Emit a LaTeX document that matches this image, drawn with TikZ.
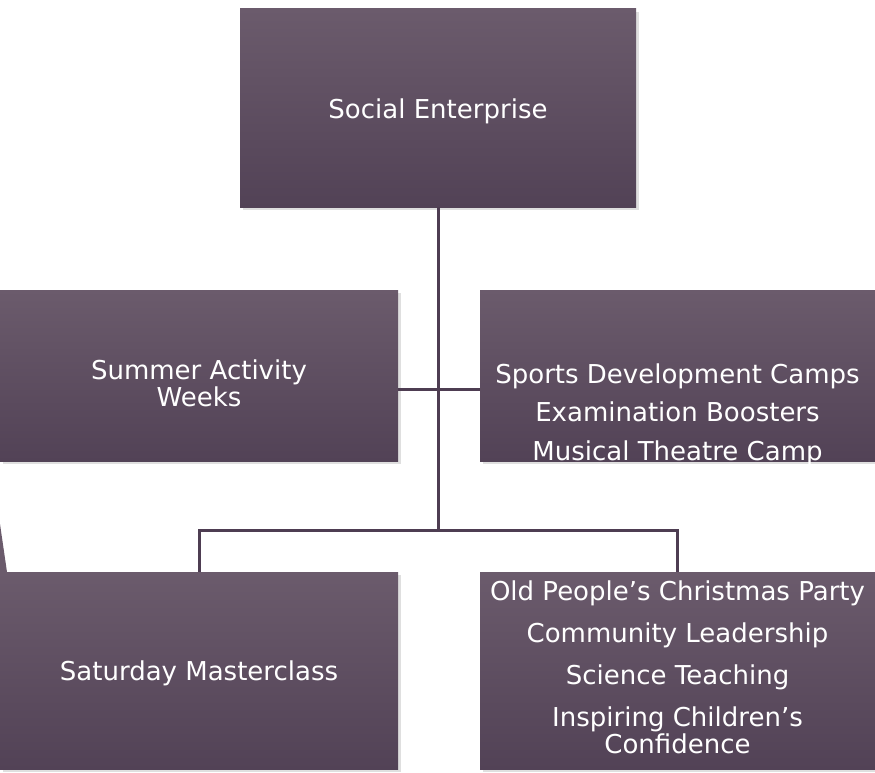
\documentclass[tikz,border=0pt]{standalone}
\usepackage{fontspec}
\setmainfont{DejaVu Sans}
\usetikzlibrary{shadows}
\definecolor{plumtop}{HTML}{6B5B6C}
\definecolor{plumbot}{HTML}{524256}
\definecolor{plumline}{HTML}{4E3D52}
\tikzset{
  orgbox/.style={rectangle, top color=plumtop, bottom color=plumbot, inner sep=0pt,
    drop shadow={shadow xshift=3pt, shadow yshift=-3pt, opacity=0.25}},
  boxtext/.style={text=white, align=center, inner sep=0pt, font=\fontsize{26}{27}\selectfont},
  link/.style={plumline, line width=3pt}
}
\begin{document}
\begin{tikzpicture}[x=1pt,y=-1pt]
\useasboundingbox (0,0) rectangle (875,773);
% boxes
\node[orgbox, minimum width=396pt, minimum height=198pt] (top) at (438,108) {};
\node[orgbox, minimum width=398pt, minimum height=171pt] (summer) at (199,375.5) {};
\node[orgbox, minimum width=395pt, minimum height=171pt] (sports) at (677.5,375.5) {};
\node[orgbox, minimum width=398pt, minimum height=197pt] (saturday) at (199,670.5) {};
\node[orgbox, minimum width=395pt, minimum height=197pt] (oldpeople) at (677.5,670.5) {};
% texts
\node[boxtext] (topText) at ([yshift=-3pt]top.center) {Social Enterprise};
\node[boxtext] (summerText) at ([yshift=-7.5pt]summer.center) {Summer Activity\\Weeks};
\node[boxtext] (sportsText) at ([yshift=-39pt]sports.center)
  {Sports Development Camps\\[11.5pt]Examination Boosters\\[11.5pt]Musical Theatre Camp};
\node[boxtext] (saturdayText) at ([yshift=-3pt]saturday.center) {Saturday Masterclass};
\node[boxtext] (oldpeopleText) at ([yshift=3pt]oldpeople.center)
  {Old People’s Christmas Party\\[15pt]Community Leadership\\[15pt]Science Teaching\\[15pt]Inspiring Children’s\\Confidence};
% sliver at the left edge
\fill[plumtop] (0,524) -- (7,572) -- (0,572) -- cycle;
% connectors
\coordinate (bus) at (438,530);
\draw[link] (top.south) -- (bus);
\draw[link] ([yshift=-13.5pt]summer.east) -- ([yshift=-13.5pt]sports.west);
\draw[link] (saturday.north) |- (bus) -| (oldpeople.north);
\end{tikzpicture}
\end{document}
